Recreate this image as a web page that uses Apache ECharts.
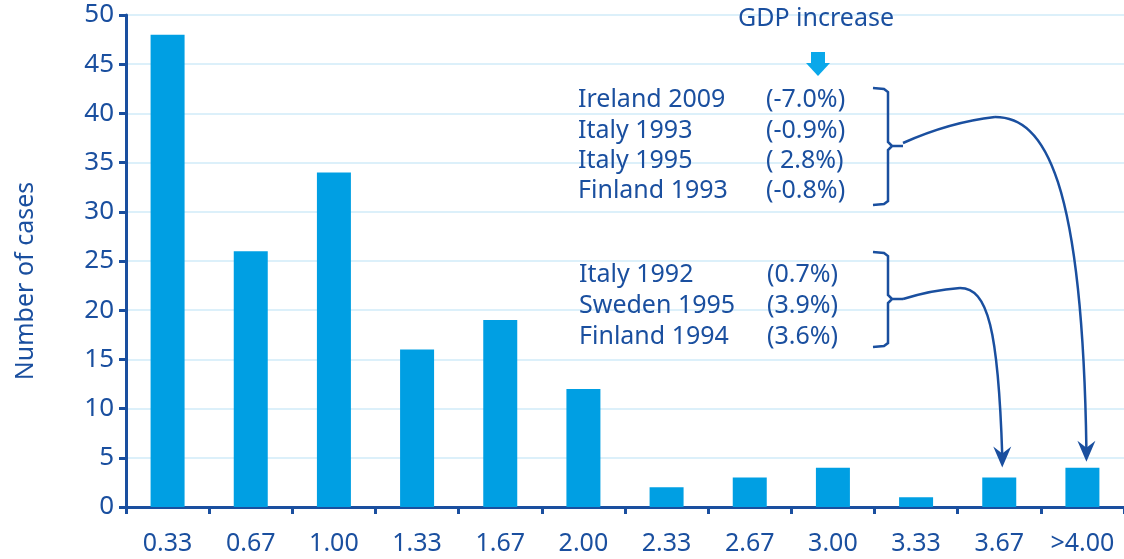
<!DOCTYPE html>
<html>
<head>
<meta charset="utf-8">
<script src="https://cdn.jsdelivr.net/npm/echarts@6.0.0/dist/echarts.min.js"></script>
<style>
  html, body { margin: 0; padding: 0; background: #fff; }
  #main { width: 1124px; height: 559px; }
</style>
</head>
<body>
<div id="main"></div>
<script>
// data
var categories = ['0.33', '0.67', '1.00', '1.33', '1.67', '2.00', '2.33', '2.67', '3.00', '3.33', '3.67', '>4.00'];
var cases = [48, 26, 34, 16, 19, 12, 2, 3, 4, 1, 3, 4];
var yTicks = [0, 5, 10, 15, 20, 25, 30, 35, 40, 45, 50];
var groupA = ['Ireland 2009', 'Italy 1993', 'Italy 1995', 'Finland 1993'];
var gdpA = ['(-7.0%)', '(-0.9%)', '( 2.8%)', '(-0.8%)'];
var groupB = ['Italy 1992', 'Sweden 1995', 'Finland 1994'];
var gdpB = ['(0.7%)', '(3.9%)', '(3.6%)'];

var DARK = '#1a4f9f';
var BAR = '#009fe3';
var GRID = '#dcf0fa';
var FONT = '"Noto Sans", sans-serif';

var chart = echarts.init(document.getElementById('main'));

chart.setOption({
  animation: false,
  grid: { left: 126, right: 0, top: 15, bottom: 52 },
  xAxis: {
    type: 'category',
    data: categories,
    axisLine: { lineStyle: { color: DARK, width: 3 } },
    axisTick: { show: true, length: 7, lineStyle: { color: DARK, width: 3 } },
    axisLabel: { color: DARK, fontSize: 25, fontFamily: FONT, margin: 24, interval: 0 }
  },
  yAxis: {
    type: 'value',
    min: yTicks[0],
    max: yTicks[yTicks.length - 1],
    interval: 5,
    name: 'Number of cases',
    nameLocation: 'middle',
    nameGap: 88,
    nameTextStyle: { color: DARK, fontSize: 25, fontFamily: FONT, padding: [0, 40, 0, 0] },
    axisLine: { show: true, lineStyle: { color: DARK, width: 3 } },
    axisTick: { show: true, length: 7, lineStyle: { color: DARK, width: 3 } },
    axisLabel: { color: DARK, fontSize: 26, fontFamily: FONT, margin: 12 },
    splitLine: { lineStyle: { color: GRID, width: 2 } }
  },
  series: [{
    type: 'bar',
    data: cases,
    barWidth: 34,
    itemStyle: { color: BAR }
  }]
});

// annotations
function txt(s, x, y, align) {
  return {
    type: 'text', z: 10,
    style: { text: s, x: x, y: y, fill: DARK, font: '25px ' + FONT, textAlign: align || 'left', textVerticalAlign: 'middle' }
  };
}

function bracket(top, mid, bottom) {
  return {
    type: 'polyline', z: 10,
    shape: { points: [[873, top], [884, top + 1], [888, top + 4], [888, mid - 4], [892, mid], [903, mid],
                      [892, mid], [888, mid + 4], [888, bottom - 4], [884, bottom - 1], [873, bottom]] },
    style: { stroke: DARK, lineWidth: 2.5, fill: null }
  };
}

function arrowHead(x, y) {
  return {
    type: 'polygon', z: 11,
    shape: { points: [[x, y], [x - 9, y - 21], [x, y - 14], [x + 9, y - 21]] },
    style: { fill: DARK }
  };
}

var tipA = chart.convertToPixel({ seriesIndex: 0 }, [11, cases[11]]);
var tipB = chart.convertToPixel({ seriesIndex: 0 }, [10, cases[10]]);
var ax = tipA[0] + 4, ay = tipA[1] - 6;
var bx = tipB[0] + 3, by = tipB[1] - 10;

var g = [];
g.push(txt('GDP increase', 816, 19, 'center'));
g.push({ type: 'rect', z: 10, shape: { x: 811, y: 52, width: 14, height: 12 }, style: { fill: '#0aa8ea' } });
g.push({ type: 'polygon', z: 10, shape: { points: [[806, 63], [830, 63], [818, 76]] }, style: { fill: '#0aa8ea' } });

var rowA = [100, 131, 161, 191];
for (var i = 0; i < groupA.length; i++) {
  g.push(txt(groupA[i], 578, rowA[i]));
  g.push(txt(gdpA[i], 766, rowA[i]));
}
var rowB = [275, 306, 337];
for (var j = 0; j < groupB.length; j++) {
  g.push(txt(groupB[j], 579, rowB[j]));
  g.push(txt(gdpB[j], 767, rowB[j]));
}

g.push(bracket(88, 146, 205));
g.push(bracket(252, 299, 347));

// curve from first bracket to >4.00
g.push({ type: 'bezierCurve', z: 10,
  shape: { x1: 903, y1: 143, cpx1: 950, cpy1: 122, x2: 995, y2: 117 },
  style: { stroke: DARK, lineWidth: 2.5, fill: null } });
g.push({ type: 'bezierCurve', z: 10,
  shape: { x1: 995, y1: 117, cpx1: 1045, cpy1: 117, cpx2: ax - 4, cpy2: 180, x2: ax, y2: ay - 12 },
  style: { stroke: DARK, lineWidth: 2.5, fill: null } });
g.push(arrowHead(ax, ay));

// curve from second bracket to 3.67
g.push({ type: 'bezierCurve', z: 10,
  shape: { x1: 903, y1: 299, cpx1: 932, cpy1: 290, x2: 960, y2: 288 },
  style: { stroke: DARK, lineWidth: 2.5, fill: null } });
g.push({ type: 'bezierCurve', z: 10,
  shape: { x1: 960, y1: 288, cpx1: 988, cpy1: 288, cpx2: bx - 4, cpy2: 330, x2: bx, y2: by - 12 },
  style: { stroke: DARK, lineWidth: 2.5, fill: null } });
g.push(arrowHead(bx, by));

chart.setOption({ graphic: g });
</script>
</body>
</html>
